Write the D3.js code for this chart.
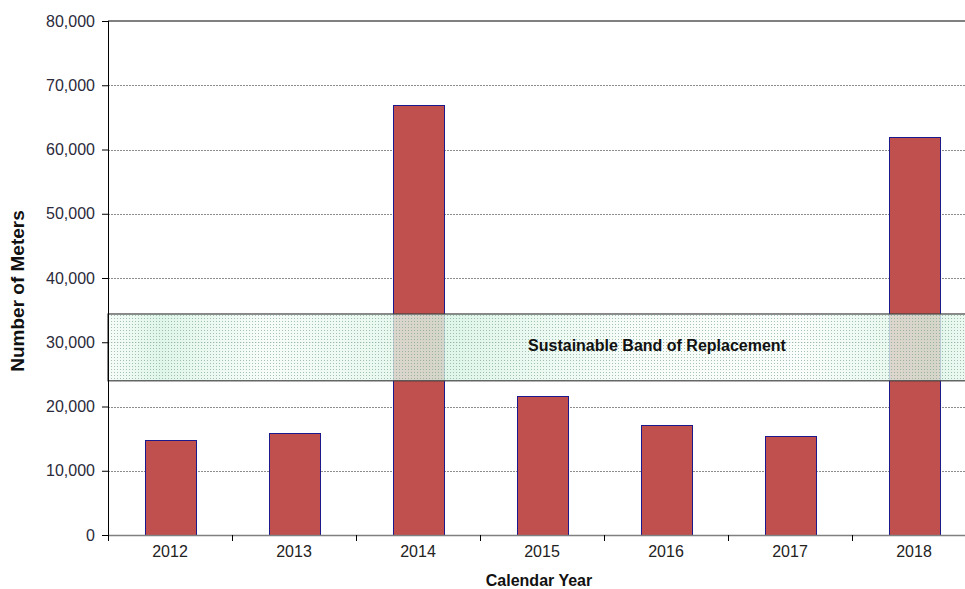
<!DOCTYPE html>
<html>
<head>
<meta charset="utf-8">
<script src="https://cdn.jsdelivr.net/npm/d3@7"></script>
<style>
  body { margin: 0; background: #fff; }
  text { font-family: "Liberation Sans", Arial, sans-serif; }
</style>
</head>
<body>
<div id="chart"></div>
<script>
  var years = ["2012", "2013", "2014", "2015", "2016", "2017", "2018"];
  var meters = [14800, 15900, 67000, 21600, 17100, 15400, 62000];
  var yTicks = [0, 10000, 20000, 30000, 40000, 50000, 60000, 70000, 80000];
  var band = [24000, 34400];
  var bandLabel = "Sustainable Band of Replacement";

  var W = 965, H = 589;
  var margin = {top: 21, right: -11, bottom: 54, left: 108};
  var width = W - margin.left - margin.right;
  var height = H - margin.top - margin.bottom;

  var svg = d3.select("#chart").append("svg")
    .attr("width", W).attr("height", H);

  var defs = svg.append("defs");
  var pat = defs.append("pattern").attr("id", "dots")
    .attr("width", 3).attr("height", 3).attr("patternUnits", "userSpaceOnUse");
  pat.append("rect").attr("x", 0).attr("y", 0).attr("width", 1).attr("height", 1)
    .attr("fill", "#6f9a82");
  var grad = defs.append("linearGradient").attr("id", "greenGlow")
    .attr("x1", "0%").attr("x2", "100%").attr("y1", "0%").attr("y2", "0%");
  [[0, 0.04], [0.06, 0.16], [0.18, 0.04], [0.4, 0.16], [0.6, 0.04], [0.8, 0.03], [0.95, 0.15], [1, 0.08]]
    .forEach(function(s) {
      grad.append("stop").attr("offset", s[0]).attr("stop-color", "#3cc47a").attr("stop-opacity", s[1]);
    });

  var x = d3.scaleBand().domain(years).range([0, width]).paddingInner(0.59).paddingOuter(0.295);
  var xb = d3.scaleBand().domain(years).range([0, width]);
  var y = d3.scaleLinear().domain([0, 80000]).range([height, 0]);

  var g = svg.append("g").attr("transform", "translate(" + margin.left + "," + margin.top + ")");

  // gridlines
  g.selectAll(".grid").data(yTicks.slice(1, -1)).enter().append("line")
    .attr("x1", 0).attr("x2", width)
    .attr("y1", function(d) { return Math.round(y(d)) + 0.5; })
    .attr("y2", function(d) { return Math.round(y(d)) + 0.5; })
    .attr("stroke", "#8c8c8c").attr("stroke-dasharray", "2,1").attr("stroke-width", 1);
  g.append("line").attr("x1", 0).attr("x2", width)
    .attr("y1", y(80000)).attr("y2", y(80000))
    .attr("stroke", "#808080").attr("stroke-width", 2);

  // bars
  g.selectAll(".bar").data(years).enter().append("rect")
    .attr("x", function(d) { return Math.round(x(d)) + 0.5; })
    .attr("y", function(d, i) { return Math.round(y(meters[i])) + 0.5; })
    .attr("width", Math.round(x.bandwidth()))
    .attr("height", function(d, i) { return height - Math.round(y(meters[i])); })
    .attr("fill", "#c0504d").attr("stroke", "#1c1a8a").attr("stroke-width", 1);

  // sustainable band
  var by0 = y(band[1]), by1 = y(band[0]);
  g.append("rect").attr("x", 0).attr("y", by0).attr("width", width).attr("height", by1 - by0)
    .attr("fill", "#ffffff").attr("fill-opacity", 0.78);
  g.append("rect").attr("x", 0).attr("y", by0).attr("width", width).attr("height", by1 - by0)
    .attr("fill", "url(#greenGlow)");
  g.append("rect").attr("x", 0).attr("y", by0).attr("width", width).attr("height", by1 - by0)
    .attr("fill", "url(#dots)").attr("fill-opacity", 0.6)
    .attr("stroke", "#404040").attr("stroke-width", 1.2);
  g.append("text").attr("x", 549).attr("y", (by0 + by1) / 2 + 4)
    .attr("text-anchor", "middle").attr("font-size", 16).attr("font-weight", "bold")
    .attr("fill", "#111").text(bandLabel);

  // y axis
  var yAxis = d3.axisLeft(y).tickValues(yTicks).tickSize(6).tickPadding(7)
    .tickFormat(d3.format(","));
  var ya = g.append("g").call(yAxis);
  ya.select(".domain").attr("stroke", "#000").attr("d", "M0.5," + height + "V" + y(80000));
  ya.selectAll(".tick line").attr("stroke", "#000");
  ya.selectAll("text").attr("font-size", 16).attr("fill", "#2a2a3a").attr("font-family", null);

  // x axis
  var xAxis = d3.axisBottom(xb).tickSize(0).tickPadding(11);
  var xa = g.append("g").attr("transform", "translate(0," + height + ")").call(xAxis);
  xa.select(".domain").attr("stroke", "#808080").attr("stroke-width", 1.5);
  xa.selectAll("text").attr("font-size", 16).attr("fill", "#222").attr("font-family", null);
  xa.selectAll(".sep").data(years.slice(1)).enter().append("line")
    .attr("x1", function(d) { return Math.round(xb(d)) + 0.5; })
    .attr("x2", function(d) { return Math.round(xb(d)) + 0.5; })
    .attr("y1", 0).attr("y2", 6).attr("stroke", "#000");
  xa.append("line").attr("x1", 0.5).attr("x2", 0.5).attr("y1", 0).attr("y2", 6).attr("stroke", "#000");

  // axis titles
  svg.append("text").attr("x", 539).attr("y", 586)
    .attr("text-anchor", "middle").attr("font-size", 16).attr("font-weight", "bold")
    .attr("fill", "#111").text("Calendar Year");
  svg.append("text").attr("transform", "translate(24," + 291 + ") rotate(-90)")
    .attr("text-anchor", "middle").attr("font-size", 19).attr("font-weight", "bold")
    .attr("fill", "#111").text("Number of Meters");
</script>
</body>
</html>
